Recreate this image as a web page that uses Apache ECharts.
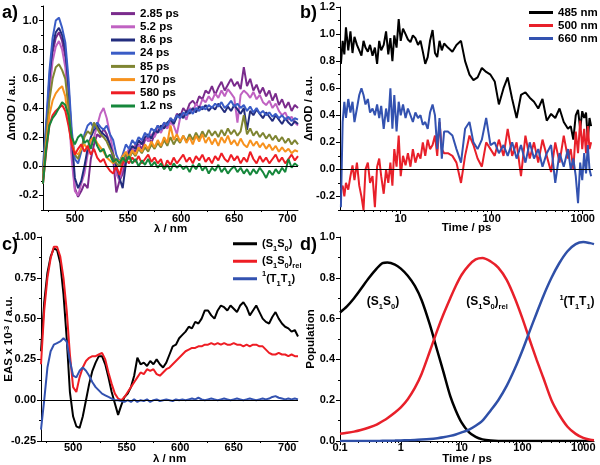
<!DOCTYPE html>
<html><head><meta charset="utf-8">
<script src="https://cdn.jsdelivr.net/npm/echarts@6/dist/echarts.min.js"></script>
<style>html,body{margin:0;padding:0;background:#fff}#c{width:600px;height:465px}</style>
</head><body><div id="c"></div>
<script>
// ---------- Panel a / c : wavelength grid (nm) ----------
const wavelength = [470,473,476,479,482,485,488,491,494,497,500,503,506,509,512,515,518,521,524,527,530,533,536,539,542,545,548,551,554,557,560,563,566,569,572,575,578,581,584,587,590,593,596,599,602,605,608,611,614,617,620,623,626,629,632,635,638,641,644,647,650,653,656,659,662,665,668,671,674,677,680,683,686,689,692,695,698,701,704,707,710];

// Panel a: transient spectra (ΔmOD)
const a_285 = [-0.05,0.25,0.55,0.78,0.88,0.92,0.86,0.75,0.45,0.10,
 -0.15,-0.21,-0.17,-0.12,-0.15,0.05,0.15,0.22,0.20,0.26,
 0.22,0.15,0.05,-0.18,-0.10,-0.05,0.08,0.05,0.12,0.10,
 0.15,0.12,0.18,0.20,0.16,0.22,0.28,0.25,0.30,0.27,
 0.33,0.30,0.36,0.34,0.40,0.37,0.43,0.45,0.42,0.48,
 0.46,0.52,0.50,0.55,0.49,0.54,0.58,0.52,0.56,0.60,
 0.55,0.58,0.53,0.68,0.55,0.60,0.52,0.56,0.50,0.54,
 0.48,0.52,0.45,0.50,0.42,0.46,0.40,0.44,0.38,0.42,0.40];
const a_52 = [-0.10,0.20,0.50,0.72,0.82,0.86,0.80,0.68,0.40,0.05,
 -0.17,-0.20,-0.12,-0.05,0.08,0.15,0.20,0.28,0.36,0.40,
 0.33,0.22,0.10,-0.05,-0.10,0.00,0.08,0.12,0.10,0.15,
 0.13,0.18,0.20,0.17,0.22,0.20,0.25,0.23,0.28,0.26,
 0.30,0.28,0.22,0.33,0.36,0.32,0.40,0.38,0.43,0.40,
 0.46,0.44,0.48,0.45,0.50,0.47,0.52,0.48,0.53,0.50,
 0.47,0.30,0.49,0.52,0.50,0.47,0.51,0.46,0.49,0.44,
 0.42,0.45,0.40,0.43,0.38,0.35,0.37,0.32,0.34,0.30,0.28];
const a_86 = [-0.08,0.25,0.60,0.82,0.92,0.95,0.90,0.80,0.55,0.20,
 -0.08,-0.15,-0.10,0.00,0.12,0.20,0.25,0.28,0.24,0.22,
 0.20,0.15,0.08,0.00,-0.08,-0.15,0.02,0.10,0.14,0.12,
 0.18,0.15,0.20,0.22,0.19,0.25,0.23,0.28,0.26,0.30,
 0.32,0.29,0.34,0.36,0.33,0.38,0.36,0.40,0.37,0.41,
 0.39,0.42,0.38,0.41,0.39,0.43,0.40,0.37,0.41,0.38,
 0.42,0.39,0.36,0.40,0.25,0.38,0.35,0.39,0.36,0.33,
 0.37,0.34,0.31,0.35,0.32,0.29,0.33,0.30,0.28,0.31,0.29];
const a_24 = [0.00,0.30,0.65,0.88,1.00,1.02,0.95,0.85,0.60,0.25,
 0.05,0.02,0.10,0.22,0.28,0.30,0.26,0.30,0.27,0.25,
 0.28,0.22,0.18,0.08,0.03,0.08,0.15,0.12,0.18,0.15,
 0.20,0.18,0.23,0.20,0.26,0.24,0.28,0.25,0.30,0.28,
 0.33,0.31,0.35,0.33,0.37,0.35,0.39,0.36,0.40,0.38,
 0.41,0.39,0.42,0.40,0.43,0.41,0.44,0.40,0.42,0.45,
 0.41,0.43,0.40,0.42,0.38,0.41,0.37,0.40,0.36,0.38,
 0.35,0.37,0.34,0.36,0.33,0.35,0.32,0.34,0.31,0.33,0.32];
const a_85 = [-0.05,0.20,0.45,0.60,0.68,0.70,0.66,0.60,0.40,0.18,
 0.08,0.05,0.12,0.20,0.24,0.22,0.30,0.26,0.22,0.20,
 0.17,0.12,0.08,0.02,0.00,0.04,0.08,0.05,0.10,0.07,
 0.12,0.09,0.13,0.10,0.15,0.12,0.16,0.13,0.18,0.14,
 0.20,0.15,0.19,0.16,0.21,0.17,0.22,0.18,0.23,0.19,
 0.24,0.20,0.25,0.21,0.24,0.20,0.25,0.21,0.26,0.22,
 0.25,0.21,0.24,0.35,0.22,0.26,0.21,0.24,0.20,0.23,
 0.19,0.22,0.18,0.21,0.17,0.20,0.16,0.19,0.15,0.18,0.15];
const a_170 = [-0.10,0.15,0.35,0.45,0.50,0.53,0.55,0.48,0.30,0.15,
 0.10,0.08,0.12,0.15,0.12,0.18,0.20,0.16,0.13,0.10,
 0.06,0.04,0.02,0.05,0.03,0.07,0.10,0.06,0.11,0.08,
 0.13,0.10,0.15,0.12,0.17,0.13,0.18,0.14,0.20,0.16,
 0.28,0.18,0.22,0.17,0.21,0.16,0.20,0.15,0.21,0.17,
 0.22,0.16,0.20,0.15,0.19,0.14,0.20,0.16,0.21,0.15,
 0.18,0.14,0.19,0.15,0.13,0.18,0.14,0.17,0.13,0.16,
 0.12,0.15,0.11,0.14,0.10,0.13,0.10,0.12,0.09,0.11,0.10];
const a_580 = [-0.12,0.10,0.28,0.35,0.38,0.40,0.42,0.38,0.28,0.15,
 0.08,0.12,0.15,0.10,0.14,0.08,0.12,0.06,0.03,0.05,
 0.00,-0.03,-0.05,0.00,-0.06,0.02,0.05,0.02,0.06,0.03,
 0.07,0.02,0.05,0.08,0.03,0.06,0.02,0.05,-0.02,0.04,
 0.01,0.06,0.02,0.05,0.08,0.03,0.06,0.02,0.07,0.04,
 0.08,0.03,0.06,0.02,0.07,0.04,0.09,0.05,0.03,0.08,
 0.04,0.07,0.02,0.06,0.03,0.10,0.05,0.02,0.07,0.03,
 0.06,0.02,0.05,0.08,0.03,0.06,0.02,0.05,0.08,0.04,0.07];
const a_1200 = [-0.12,0.12,0.28,0.33,0.36,0.40,0.44,0.42,0.35,0.20,
 0.15,0.20,0.22,0.16,0.18,0.12,0.20,0.14,0.10,0.12,
 0.06,0.08,0.03,0.05,0.02,0.06,0.03,0.07,0.02,0.05,
 0.00,0.04,0.01,0.05,0.00,0.03,-0.01,0.02,-0.02,0.01,
 -0.03,0.02,-0.01,0.01,-0.02,0.00,-0.04,0.01,-0.02,0.02,
 -0.03,0.00,-0.05,-0.01,-0.03,0.01,-0.04,-0.01,-0.05,-0.02,
 0.00,-0.04,-0.01,-0.05,-0.02,-0.06,-0.02,-0.05,-0.01,-0.04,
 -0.08,-0.03,-0.06,-0.02,-0.05,-0.01,-0.04,0.05,-0.01,0.02,0.00];

// ---------- Panel b: kinetics ----------
const timeB = [2.2,2.3,2.4,2.5,2.65,2.8,2.95,3.1,3.3,3.5,
 3.7,3.9,4.1,4.35,4.6,4.9,5.2,5.5,5.8,6.1,
 6.5,6.9,7.3,7.7,8.1,8.5,9.0,9.5,10.0,10.6,
 11.3,12.0,12.8,13.6,14.5,15.5,16.5,17.5,18.6,19.8,
 21,22.4,23.8,25.2,26.7,28.3,30,33,37,41,
 46,51,57,63,70,78,87,97,108,120,
 135,150,168,188,210,235,262,292,325,362,
 403,450,500,557,620,690,740,790,840,890,
 940,990,1040,1090,1140,1190,1240];
const b_485 = [0.78,0.95,0.85,1.05,0.88,1.02,0.86,0.98,0.92,0.88,
 0.84,0.95,0.90,0.87,0.92,0.84,0.90,0.78,0.95,0.88,
 0.92,1.02,0.85,0.97,0.80,0.99,0.90,1.11,0.95,1.04,
 1.00,0.96,0.94,0.99,0.97,0.92,0.95,0.87,0.78,0.83,
 0.95,1.03,0.86,0.83,0.95,0.88,0.93,0.90,0.87,0.92,
 0.95,0.80,0.70,0.66,0.68,0.75,0.72,0.70,0.65,0.48,
 0.60,0.68,0.52,0.38,0.55,0.57,0.53,0.50,0.45,0.52,
 0.36,0.41,0.38,0.45,0.35,0.30,0.32,0.22,0.40,0.44,
 0.30,0.43,0.38,0.42,0.22,0.38,0.32];
const b_500 = [-0.15,-0.12,-0.20,-0.10,-0.15,-0.05,0.03,-0.08,0.05,-0.12,
 -0.20,-0.30,0.00,0.05,-0.10,-0.05,-0.28,0.02,0.08,-0.05,
 -0.18,0.00,-0.10,0.05,-0.12,0.15,0.02,0.25,-0.05,0.10,
 0.03,0.12,0.02,0.15,0.05,0.12,0.08,0.20,0.10,0.22,
 0.15,0.18,0.25,0.10,0.35,0.15,0.12,0.12,0.10,0.05,
 -0.10,0.10,0.25,0.18,0.08,0.02,0.20,0.15,0.10,0.22,
 0.10,0.30,0.10,0.20,-0.05,0.25,0.08,0.20,0.05,0.22,
 0.10,-0.02,0.20,0.05,0.25,0.08,0.15,0.00,0.28,0.12,
 0.36,0.15,0.30,0.12,0.32,0.15,0.20];
const b_660 = [-0.28,0.35,0.50,0.38,0.52,0.42,0.50,0.35,0.45,0.55,
 0.60,0.55,0.48,0.52,0.42,0.45,0.40,0.48,0.38,0.47,
 0.30,0.45,0.35,0.60,0.30,0.55,0.28,0.50,0.40,0.48,
 0.38,0.45,0.40,0.35,0.42,0.38,0.40,0.33,0.35,0.30,
 0.42,0.48,0.40,0.15,0.38,0.08,0.28,0.28,0.25,0.15,
 0.05,0.30,0.35,0.20,0.15,0.22,0.38,0.18,0.20,0.12,
 0.18,0.10,0.20,0.08,0.18,0.05,0.20,0.08,0.15,0.02,
 0.12,0.18,-0.10,0.12,0.02,0.15,0.00,0.08,-0.05,-0.25,
 0.05,-0.08,0.12,-0.03,0.18,0.00,-0.05];

// ---------- Panel c: EAS ----------
const c_S1S0 = [0.30,0.60,0.78,0.88,0.93,0.92,0.84,0.65,0.38,0.05,
 -0.10,-0.16,-0.17,-0.10,0.00,0.10,0.18,0.23,0.27,0.27,
 0.22,0.14,0.05,-0.02,-0.09,-0.03,0.02,0.04,0.08,0.15,
 0.26,0.22,0.23,0.21,0.24,0.22,0.25,0.22,0.20,0.23,
 0.28,0.33,0.34,0.38,0.40,0.42,0.45,0.44,0.48,0.47,
 0.50,0.55,0.55,0.52,0.50,0.55,0.58,0.57,0.55,0.58,
 0.56,0.54,0.58,0.60,0.57,0.52,0.55,0.58,0.54,0.50,
 0.48,0.47,0.51,0.54,0.50,0.47,0.45,0.44,0.42,0.43,0.39];
const c_S1S0rel = [0.22,0.55,0.75,0.87,0.94,0.94,0.88,0.75,0.55,0.28,
 0.08,0.05,0.14,0.20,0.24,0.26,0.27,0.27,0.28,0.29,
 0.25,0.17,0.10,0.04,0.01,0.00,0.02,0.05,0.08,0.11,
 0.14,0.17,0.16,0.19,0.18,0.19,0.16,0.15,0.17,0.19,
 0.20,0.22,0.24,0.26,0.28,0.30,0.31,0.32,0.32,0.33,
 0.33,0.34,0.34,0.35,0.34,0.35,0.34,0.35,0.34,0.34,
 0.35,0.34,0.34,0.33,0.34,0.33,0.34,0.34,0.33,0.33,
 0.31,0.29,0.28,0.28,0.29,0.28,0.28,0.27,0.28,0.27,0.27];
const c_T1T1 = [-0.18,0.00,0.20,0.30,0.34,0.35,0.36,0.38,0.36,0.24,
 0.15,0.14,0.18,0.20,0.18,0.15,0.11,0.08,0.06,0.04,
 0.03,0.02,0.01,0.00,0.00,-0.005,-0.01,0.00,-0.01,0.005,
 -0.01,0.00,-0.005,0.005,-0.01,0.00,0.005,-0.005,0.00,0.005,
 0.00,-0.005,0.005,0.00,0.005,0.00,0.005,0.01,0.005,0.015,
 0.005,0.00,0.005,0.01,0.005,0.00,0.005,0.01,0.005,0.00,
 0.005,0.01,0.005,0.00,0.005,0.01,0.005,0.00,0.005,0.01,
 0.005,0.01,0.02,0.025,0.015,0.01,0.005,0.01,0.005,0.01,0.005];

// ---------- Panel d: populations ----------
const timeD = [0.1,0.13,0.17,0.22,0.3,0.4,0.5,0.6,0.8,1,1.3,1.7,2.2,3,4,5,6.5,8,10,13,17,22,30,40,55,75,100,130,170,220,300,400,550,750,1000,1300,1500];
const d_S1S0 = [0.63,0.66,0.70,0.745,0.80,0.845,0.872,0.875,0.865,0.845,0.81,0.76,0.69,0.57,0.44,0.34,0.22,0.15,0.09,0.045,0.02,0.008,0.002,0,0,0,0,0,0,0,0,0,0,0,0,0,0];
const d_S1S0rel = [0.035,0.04,0.046,0.054,0.066,0.08,0.097,0.112,0.14,0.165,0.205,0.26,0.33,0.44,0.545,0.62,0.70,0.76,0.815,0.86,0.89,0.897,0.88,0.85,0.79,0.70,0.60,0.50,0.40,0.31,0.20,0.13,0.07,0.035,0.015,0.006,0.004];
const d_T1T1 = [0,0,0,0,0,0,0.001,0.001,0.002,0.003,0.004,0.005,0.007,0.01,0.014,0.018,0.025,0.032,0.042,0.055,0.075,0.1,0.15,0.2,0.27,0.355,0.445,0.535,0.625,0.71,0.8,0.87,0.93,0.965,0.975,0.97,0.965];

// ---------- tick labels ----------
const ticksNmMajor = [500,550,600,650,700];
const ticksNmMinor = [475,525,575,625,675];
const ticksAYMajor = [-0.2,0,0.2,0.4,0.6,0.8,1.0];
const ticksAYMinor = [-0.3,-0.1,0.1,0.3,0.5,0.7,0.9,1.1];
const ticksBYMajor = [-0.2,0,0.2,0.4,0.6,0.8,1.0,1.2];
const ticksBYMinor = [-0.3,-0.1,0.1,0.3,0.5,0.7,0.9,1.1];
const ticksBXMajor = [10,100,1000];
const ticksBXMinor = [3,4,5,6,7,8,9,20,30,40,50,60,70,80,90,200,300,400,500,600,700,800,900];
const ticksCYMajor = [-0.25,0,0.25,0.5,0.75,1.0];
const ticksCYMinor = [-0.125,0.125,0.375,0.625,0.875];
const ticksDYMajor = [0,0.2,0.4,0.6,0.8,1.0];
const ticksDYMinor = [0.1,0.3,0.5,0.7,0.9];
const ticksDXMajor = [0.1,1,10,100,1000];
const ticksDXMinor = [0.2,0.3,0.4,0.5,0.6,0.7,0.8,0.9,2,3,4,5,6,7,8,9,20,30,40,50,60,70,80,90,200,300,400,500,600,700,800,900];

const FONT = '"Liberation Sans", Arial, Helvetica, sans-serif';
const BOLD = {fontFamily: FONT, fontWeight: 'bold', color: '#000'};

function axes(dim, grid, type, min, max, major, minor, fmt, name, nameGap, labelMargin, nameStyle) {
  const pos = dim === 'x' ? 'bottom' : 'left';
  const base = {gridIndex: grid, type: type, min: min, max: max, position: pos, offset: 0,
    splitLine: {show: false}, minorTick: {show: false}};
  if (type === 'log') base.logBase = 10;
  const main = Object.assign({}, base, {
    axisLine: {show: true, onZero: false, lineStyle: {color: '#000', width: 1}},
    axisTick: {show: true, length: 4, customValues: major, lineStyle: {color: '#000', width: 1}},
    axisLabel: Object.assign({show: true, customValues: major, formatter: fmt, fontSize: 11,
      margin: labelMargin, hideOverlap: false}, BOLD),
    name: name, nameLocation: 'middle', nameGap: nameGap, nameMoveOverlap: false,
    nameTextStyle: Object.assign({fontSize: 11.5}, BOLD, nameStyle || {})
  });
  const mnr = Object.assign({}, base, {
    axisLine: {show: false, onZero: false},
    axisTick: {show: true, length: 2, customValues: minor, lineStyle: {color: '#000', width: 1}},
    axisLabel: {show: false}
  });
  return [main, mnr];
}
const f1 = v => Number(v).toFixed(1);
const f2 = v => Number(v).toFixed(2);
const f0 = v => String(Number(v));

const xAxes = [].concat(
  axes('x', 0, 'value', 470, 710, ticksNmMajor, ticksNmMinor, f0, 'λ / nm', 13, 3.5),
  axes('x', 1, 'log', 2.15, 1300, ticksBXMajor, ticksBXMinor, f0, 'Time / ps', 11.5, 3.5),
  axes('x', 2, 'value', 470, 710, ticksNmMajor, ticksNmMinor, f0, 'λ / nm', 12, 1),
  axes('x', 3, 'log', 0.0999, 1500, ticksDXMajor, ticksDXMinor, f0, 'Time / ps', 11.5, 1)
);
const subRich = {
  sb: {fontSize: 7.5, fontFamily: FONT, fontWeight: 'bold', color: '#000', verticalAlign: 'bottom'},
  sp: {fontSize: 7.5, fontFamily: FONT, fontWeight: 'bold', color: '#000', verticalAlign: 'top'}
};
const yAxes = [].concat(
  axes('y', 0, 'value', -0.3, 1.1, ticksAYMajor, ticksAYMinor, f1, 'ΔmOD / a.u.', 25, 5),
  axes('y', 1, 'value', -0.3, 1.2, ticksBYMajor, ticksBYMinor, f1, 'ΔmOD / a.u.', 25, 5),
  axes('y', 2, 'value', -0.25, 1.0, ticksCYMajor, ticksCYMinor, f2, 'EAS x 10{sp|-3} / a.u.', 26.5, 5, {rich: subRich}),
  axes('y', 3, 'value', 0, 1.0, ticksDYMajor, ticksDYMinor, f1, 'Population', 23, 5)
);

const zeroLine = {silent: true, symbol: 'none', label: {show: false},
  lineStyle: {color: '#000', width: 1, type: 'solid'}, data: [{yAxis: 0}], animation: false};

function pairs(xs, ys) { return xs.map((x, i) => [x, ys[i]]); }
function line(name, xs, ys, color, ax, width, extra) {
  return Object.assign({name: name, type: 'line', xAxisIndex: ax, yAxisIndex: ax,
    data: pairs(xs, ys), showSymbol: false, symbol: 'none', clip: true,
    lineStyle: {color: color, width: width || 2}, itemStyle: {color: color}}, extra || {});
}

const aNames = ['2.85 ps','5.2 ps','8.6 ps','24 ps','85 ps','170 ps','580 ps','1.2 ns'];
const aData = [a_285, a_52, a_86, a_24, a_85, a_170, a_580, a_1200];
const aColors = ['#7A2B8C','#C062C2','#232D7E','#3A5CC6','#7F8532','#F7921E','#EE1D24','#15873B'];
const series = [];
aNames.forEach((n, i) => series.push(line(n, wavelength, aData[i], aColors[i], 0, 2,
  i === 0 ? {markLine: zeroLine} : {})));
series.push(line('485 nm', timeB, b_485, '#000000', 2, 2, {markLine: zeroLine}));
series.push(line('500 nm', timeB, b_500, '#E8202A', 2, 2));
series.push(line('660 nm', timeB, b_660, '#3352B0', 2, 2));
series.push(line('S1S0', wavelength, c_S1S0, '#000000', 4, 2, {markLine: zeroLine}));
series.push(line('S1S0rel', wavelength, c_S1S0rel, '#EE1D24', 4, 2));
series.push(line('T1T1', wavelength, c_T1T1, '#3352B0', 4, 2));
series.push(line('dS1S0', timeD, d_S1S0, '#000000', 6, 2.5, {smooth: 0.3}));
series.push(line('dS1S0rel', timeD, d_S1S0rel, '#E8202A', 6, 2.5, {smooth: 0.3}));
series.push(line('dT1T1', timeD, d_T1T1, '#2F50A8', 6, 2.5, {smooth: 0.3}));

const cLegendText = {S1S0: '(S{sb|1}S{sb|0})', S1S0rel: '(S{sb|1}S{sb|0}){sb|rel}', T1T1: '{sp|1}(T{sb|1}T{sb|1})'};
const legendBase = {orient: 'vertical', icon: 'rect', itemWidth: 24, itemHeight: 3, itemGap: 0, padding: 0,
  selectedMode: false};
const gridBase = {outerBoundsMode: 'none', containLabel: false};

const option = {
  animation: false,
  backgroundColor: '#fff',
  grid: [
    Object.assign({left: 43, top: 6, width: 255, height: 204}, gridBase),
    Object.assign({left: 340, top: 7, width: 253, height: 203}, gridBase),
    Object.assign({left: 41, top: 237, width: 257, height: 204}, gridBase),
    Object.assign({left: 340, top: 237, width: 254, height: 204}, gridBase)
  ],
  xAxis: xAxes,
  yAxis: yAxes,
  legend: [
    Object.assign({}, legendBase, {data: aNames, left: 111, top: 7,
      textStyle: Object.assign({fontSize: 11.5, lineHeight: 13.2}, BOLD)}),
    Object.assign({}, legendBase, {data: ['485 nm','500 nm','660 nm'], left: 529, top: 6,
      textStyle: Object.assign({fontSize: 11.5, lineHeight: 13}, BOLD)}),
    Object.assign({}, legendBase, {data: ['S1S0','S1S0rel','T1T1'], left: 233, top: 235,
      formatter: n => cLegendText[n],
      textStyle: Object.assign({fontSize: 11, lineHeight: 17.5, rich: subRich}, BOLD)})
  ],
  graphic: [
    {type: 'text', left: 2, top: 4, style: Object.assign({text: 'a)', fontSize: 18}, BOLD, {fill: '#000'})},
    {type: 'text', left: 300, top: 4, style: Object.assign({text: 'b)', fontSize: 18}, BOLD, {fill: '#000'})},
    {type: 'text', left: 2, top: 236, style: Object.assign({text: 'c)', fontSize: 18}, BOLD, {fill: '#000'})},
    {type: 'text', left: 300, top: 236, style: Object.assign({text: 'd)', fontSize: 18}, BOLD, {fill: '#000'})},
    {type: 'text', x: 383, y: 302, style: {text: '(S{sb|1}S{sb|0})', fontSize: 12, fontFamily: FONT, fontWeight: 'bold', fill: '#000', align: 'center', verticalAlign: 'middle', lineHeight: 17, rich: subRich}},
    {type: 'text', x: 487, y: 302, style: {text: '(S{sb|1}S{sb|0}){sb|rel}', fontSize: 12, fontFamily: FONT, fontWeight: 'bold', fill: '#000', align: 'center', verticalAlign: 'middle', lineHeight: 17, rich: subRich}},
    {type: 'text', x: 577, y: 302, style: {text: '{sp|1}(T{sb|1}T{sb|1})', fontSize: 12, fontFamily: FONT, fontWeight: 'bold', fill: '#000', align: 'center', verticalAlign: 'middle', lineHeight: 17, rich: subRich}}
  ],
  series: series
};
const chart = echarts.init(document.getElementById('c'), null, {renderer: 'canvas', width: 600, height: 465});
chart.setOption(option);
</script>
</body></html>
